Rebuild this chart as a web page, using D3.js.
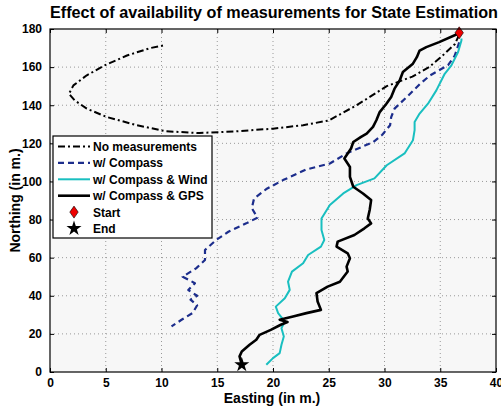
<!DOCTYPE html>
<html>
<head>
<meta charset="utf-8">
<script src="https://cdn.jsdelivr.net/npm/d3@7"></script>
<style>
  body { margin: 0; background: #fff; }
  text { font-family: "Liberation Sans", Arial, sans-serif; font-weight: bold; }
</style>
</head>
<body>
<svg id="chart" width="501" height="409"></svg>
<script>
// trajectories, [easting, northing]
var noMeas = [[36.7,177],[36.3,172],[35.2,166],[34,160],[32.5,155],[30.2,150],[27.5,140],[25,132],[22.7,129.5],
  [20,127.7],[16.7,126.3],[13.4,125.4],[10.4,126.3],[7.8,129.5],[5.1,133.8],[3.3,138.2],[2.2,142.6],[1.7,146],
  [2.1,150.4],[3.3,155.7],[4.9,160.9],[6.9,166.1],[9,170],[10.2,171.4]]

var compass = [[36.7,173],[36.3,166],[35.7,161],[34.1,155.7],[33.2,151.3],[32,144.3],[30.9,138.2],[30.6,133.8],
  [30.5,129.5],[29.8,124.5],[29,120.7],[26.6,114.7],[25.1,109.4],[23,106.3],[20.9,100.7],[19.4,96],[18.3,91],
  [18.1,86],[18.6,81],[17.6,78],[16,73.6],[14.9,69.3],[13.9,64],[13.9,58.8],[13.1,54.4],[11.9,50],[13,46.6],
  [12.4,43],[13.2,40],[12.6,38],[13.2,35],[12.8,31],[11.8,27.4],[10.9,23.9]]

var compassWind = [[36.9,175],[36.9,174],[36.6,167.9],[36,160.9],[35.4,156.5],[34.65,147.8],[33.9,140.8],[33.15,135.6],
  [32.7,131.2],[32.7,126.9],[32.55,121.6],[31.8,114.7],[30.2,108.5],[29.1,101.6],[27.5,98.1],[26.3,93.7],
  [25.1,87.6],[24.35,80.6],[24.35,74.5],[24.6,69.3],[24.3,65.8],[23.15,61.4],[22.7,57.1],[21.7,52.7],
  [21.35,47.4],[21.5,43.1],[21.06,38.7],[20.25,34.3],[20.46,30.9],[21.06,26.5],[20.76,23],[20.97,18.6],
  [20.76,14.3],[20.6,9.9],[20,7.3],[19.4,3.8]]

var compassGps = [[36.7,178],[36.6,177.5],[34.9,173.1],[33.75,170.5],[33.15,168.7],[32.9,165.2],[32.55,161.8],
  [31.65,157.4],[31.36,153],[30.9,148.7],[30.6,144.3],[30.17,140.8],[29.57,136.4],[29.27,132.1],[28.97,128.6],
  [28.4,125.1],[27.9,123.4],[27.2,120.7],[27,117.3],[26.4,112],[26.9,107.6],[26.9,102.4],[27.2,97.2],[28.07,93.7],
  [28.8,90.2],[28.67,85],[28.5,80.6],[28.8,78],[28.2,75.4],[27.3,71.9],[25.8,68.4],[25.7,65.8],[26.7,62.3],
  [26.9,59.7],[26.6,55.3],[26.7,52.7],[26,47.4],[24.9,44.8],[23.9,41.4],[24,37],[24.3,32.6],[23,30.9],[21.8,29.1],
  [20.6,27.4],[21.3,26.2],[20.7,24.8],[19.8,22.1],[18.8,19.5],[18.5,16.9],[17.9,14.3],[17.2,10.8],[17,8.2],[17.2,3.8]]

var startPt = [36.7, 178]
var endPt = [17.2, 3.8]

var xTicks = [0, 5, 10, 15, 20, 25, 30, 35, 40]
var yTicks = [0, 20, 40, 60, 80, 100, 120, 140, 160, 180]

var legendItems = [
  { label: 'No measurements', kind: 'line', color: '#000', dash: '7,3,2,3', w: 2 },
  { label: 'w/ Compass', kind: 'line', color: '#1c2d8c', dash: '6,4', w: 2.2 },
  { label: 'w/ Compass & Wind', kind: 'line', color: '#19bfc0', dash: null, w: 2 },
  { label: 'w/ Compass & GPS', kind: 'line', color: '#000', dash: null, w: 2.6 },
  { label: 'Start', kind: 'diamond' },
  { label: 'End', kind: 'star' }
]

var svg = d3.select('#chart')
var plotL = 50, plotR = 496, plotT = 29, plotB = 372

var x = d3.scaleLinear().domain([0, 40]).range([plotL, plotR])
var y = d3.scaleLinear().domain([0, 180]).range([plotB, plotT])

svg.append('rect')
  .attr('x', plotL).attr('y', plotT)
  .attr('width', plotR - plotL).attr('height', plotB - plotT)
  .attr('fill', '#f7f7f7')

// dotted grid
svg.append('g').selectAll('line').data(xTicks.slice(1, -1)).enter().append('line')
  .attr('x1', d => x(d)).attr('x2', d => x(d)).attr('y1', plotT).attr('y2', plotB)
  .attr('stroke', '#999').attr('stroke-width', 1).attr('stroke-dasharray', '1,3')
svg.append('g').selectAll('line').data(yTicks.slice(1, -1)).enter().append('line')
  .attr('y1', d => y(d)).attr('y2', d => y(d)).attr('x1', plotL).attr('x2', plotR)
  .attr('stroke', '#999').attr('stroke-width', 1).attr('stroke-dasharray', '1,3')

// axes with inward ticks
svg.append('g').attr('transform', `translate(0,${plotB})`)
  .call(d3.axisBottom(x).tickValues(xTicks).tickSize(-4).tickPadding(6).tickSizeOuter(0))
svg.append('g').attr('transform', `translate(${plotL},0)`)
  .call(d3.axisLeft(y).tickValues(yTicks).tickSize(-4).tickPadding(8).tickSizeOuter(0))
svg.append('g').attr('transform', `translate(0,${plotT})`)
  .call(d3.axisTop(x).tickValues(xTicks).tickSize(-4).tickFormat('').tickSizeOuter(0))
svg.append('g').attr('transform', `translate(${plotR},0)`)
  .call(d3.axisRight(y).tickValues(yTicks).tickSize(-4).tickFormat('').tickSizeOuter(0))
svg.selectAll('.domain').remove()
svg.selectAll('.tick line').attr('stroke', '#000')
svg.selectAll('.tick text').style('font-size', '12px').style('font-weight', 'bold')
  .style('font-family', '"Liberation Sans", Arial, sans-serif').attr('fill', '#000')

var line = d3.line().x(d => x(d[0])).y(d => y(d[1]))

function drawPath(data, item) {
  svg.append('path').datum(data)
    .attr('d', line)
    .attr('fill', 'none')
    .attr('stroke', item.color)
    .attr('stroke-width', item.w)
    .attr('stroke-linejoin', 'round')
    .attr('stroke-dasharray', item.dash)
}
drawPath(noMeas, legendItems[0])
drawPath(compass, legendItems[1])
drawPath(compassWind, legendItems[2])
drawPath(compassGps, legendItems[3])

var diamond = 'M0,-6 L4.2,0 L0,6 L-4.2,0 Z'
var star = d3.symbol().type(d3.symbolStar).size(70)()

svg.append('path').attr('d', star)
  .attr('transform', `translate(${x(endPt[0])},${y(endPt[1])})`)
  .attr('fill', '#000')
svg.append('path').attr('d', diamond)
  .attr('transform', `translate(${x(startPt[0])},${y(startPt[1])})`)
  .attr('fill', '#e00').attr('stroke', '#000').attr('stroke-width', 0.6)

// plot frame
svg.append('rect')
  .attr('x', plotL).attr('y', plotT)
  .attr('width', plotR - plotL).attr('height', plotB - plotT)
  .attr('fill', 'none').attr('stroke', '#000').attr('stroke-width', 1.2)

// legend
var lg = svg.append('g').attr('transform', 'translate(53,136)')
lg.append('rect').attr('width', 159).attr('height', 102)
  .attr('fill', '#fff').attr('stroke', '#000').attr('stroke-width', 1.2)
legendItems.forEach((it, i) => {
  var yy = 10.5 + i * 16.4
  if (it.kind == 'line') {
    lg.append('line').attr('x1', 5).attr('x2', 37).attr('y1', yy).attr('y2', yy)
      .attr('stroke', it.color).attr('stroke-width', it.w).attr('stroke-dasharray', it.dash)
  } else if (it.kind == 'diamond') {
    lg.append('path').attr('d', diamond).attr('transform', `translate(21,${yy})`)
      .attr('fill', '#e00').attr('stroke', '#000').attr('stroke-width', 0.6)
  } else {
    lg.append('path').attr('d', star).attr('transform', `translate(21,${yy})`).attr('fill', '#000')
  }
  lg.append('text').attr('x', 40).attr('y', yy + 4.4).style('font-size', '12px').text(it.label)
})

// title and labels
svg.append('text').attr('x', 274).attr('y', 18).attr('text-anchor', 'middle')
  .style('font-size', '16.2px').text('Effect of availability of measurements for State Estimation')
svg.append('text').attr('x', 272).attr('y', 403).attr('text-anchor', 'middle')
  .style('font-size', '14px').text('Easting (in m.)')
svg.append('text').attr('transform', `translate(20,${(plotT + plotB) / 2}) rotate(-90)`)
  .attr('text-anchor', 'middle').style('font-size', '14px').text('Northing (in m.)')
</script>
</body>
</html>
